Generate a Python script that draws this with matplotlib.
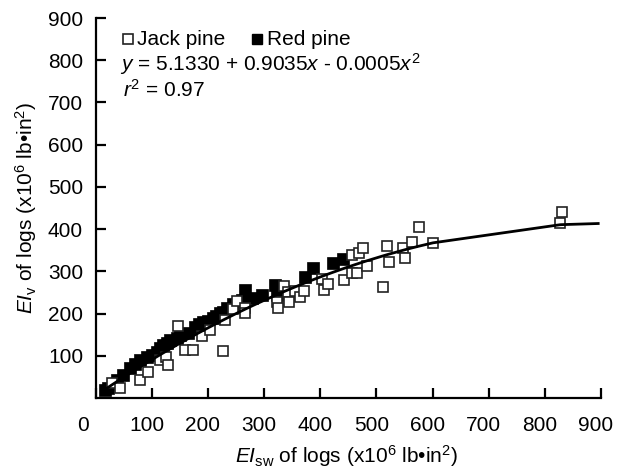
import numpy as np
import matplotlib
matplotlib.use("Agg")
import matplotlib.pyplot as plt
from matplotlib.lines import Line2D
from matplotlib.transforms import ScaledTranslation

plt.rcParams['font.family'] = ['Liberation Sans', 'DejaVu Sans']
plt.rcParams['mathtext.fontset'] = 'custom'
plt.rcParams['mathtext.rm'] = 'Liberation Sans'
plt.rcParams['mathtext.it'] = 'Liberation Sans:italic'
plt.rcParams['mathtext.bf'] = 'Liberation Sans:bold'

# Red pine logs (x = EI_sw, y = EI_v), 10^6 lb-in^2
red_x = [17, 22, 32, 38, 49, 61, 70, 79, 92, 100, 109, 115, 120, 127, 133, 145,
         150, 165, 177, 185, 191, 200, 209, 215, 222, 227, 235, 245, 261, 266,
         279, 296, 320, 323, 373, 387, 423, 441]
red_y = [19, 24, 33, 43, 54, 71, 80, 90, 97, 103, 109, 118, 125, 130, 137, 142,
         150, 154, 168, 175, 180, 183, 189, 195, 201, 204, 212, 222, 232, 256,
         237, 244, 267, 244, 286, 308, 320, 329]

# Jack pine logs
jack_x = [29, 44, 79, 93, 115, 126, 129, 147, 159, 174, 190, 204, 227, 230,
          245, 252, 266, 266, 323, 325, 335, 342, 345, 355, 364, 371, 404, 407,
          414, 443, 456, 457, 465, 469, 477, 483, 512, 519, 522, 548, 551, 563,
          576, 601, 827, 830]
jack_y = [36, 24, 43, 62, 90, 97, 78, 171, 113, 113, 146, 161, 111, 185,
          210, 230, 212, 201, 227, 213, 265, 252, 228, 254, 239, 254, 282, 255,
          270, 279, 338, 296, 296, 343, 355, 312, 263, 360, 322, 355, 332, 370,
          405, 367, 414, 440]

# quadratic fit over both species
coef = [5.1330, 0.9035, -0.0005]
fit_end = 895

W, H = 618, 473
fig = plt.figure(figsize=(W / 100, H / 100), dpi=100)
ax = fig.add_axes([95.5 / W, 1 - 398 / H, (601 - 95.5) / W, (398 - 18) / H])

ax.plot(jack_x, jack_y, linestyle='none', marker='s', markersize=7.0,
        markerfacecolor='white', markeredgecolor='#222222', markeredgewidth=1.2,
        zorder=3)
ax.plot(red_x, red_y, linestyle='none', marker='s', markersize=8.6,
        markerfacecolor='black', markeredgecolor='black', markeredgewidth=0.5,
        zorder=2)

xs = np.array(sorted(set(red_x + jack_x)) + [fit_end], dtype=float)
ys = coef[0] + coef[1] * xs + coef[2] * xs ** 2
ax.plot(xs, ys, color='black', linewidth=2.0, zorder=4)

ax.set_xlim(0, 900)
ax.set_ylim(0, 900)
ax.set_xticks(np.arange(0, 901, 100))
ax.set_yticks(np.arange(100, 901, 100))
for s in ['top', 'right']:
    ax.spines[s].set_visible(False)
for s in ['left', 'bottom']:
    ax.spines[s].set_linewidth(1.6)
ax.tick_params(axis='both', direction='in', length=7, width=1.6,
               labelsize=15, colors='black')
ax.tick_params(axis='x', pad=13)
ax.tick_params(axis='y', pad=9)

# shift x tick labels slightly left, the zero label further
for i, lab in enumerate(ax.get_xticklabels()):
    dx = -13 / 100 if i == 0 else -5 / 100
    lab.set_transform(lab.get_transform() + ScaledTranslation(dx, 0, fig.dpi_scale_trans))


def fx(px):
    return px / W


def fy(py):
    return 1 - py / H


# legend
fig.add_artist(Line2D([fx(128)], [fy(39)], transform=fig.transFigure, marker='s',
                      markersize=6.8, markerfacecolor='white',
                      markeredgecolor='#222222', markeredgewidth=1.2, linestyle='none'))
fig.text(fx(137), fy(45), 'Jack pine', fontsize=15, va='baseline', ha='left')
fig.add_artist(Line2D([fx(257)], [fy(39)], transform=fig.transFigure, marker='s',
                      markersize=7.4, markerfacecolor='black',
                      markeredgecolor='black', linestyle='none'))
fig.text(fx(267), fy(45), 'Red pine', fontsize=15, va='baseline', ha='left')

eq = r'$y$ = %.4f + %.4f$x$ - %.4f$x^2$' % (coef[0], coef[1], -coef[2])
fig.text(fx(120), fy(71), eq, fontsize=15, va='baseline', ha='left')
fig.text(fx(123), fy(97), r'$r^2$ = 0.97', fontsize=15, va='baseline', ha='left')

fig.text(fx(346), fy(463), r'$EI_{\mathrm{sw}}$ of logs (x10$^{6}$ lb•in$^{2}$)',
         fontsize=15, ha='center', va='baseline')
fig.text(fx(26), fy(208), r'$EI_{\mathrm{v}}$ of logs (x10$^{6}$ lb•in$^{2}$)',
         fontsize=15, ha='center', va='center', rotation=90)

fig.savefig('out.png', dpi=100)
